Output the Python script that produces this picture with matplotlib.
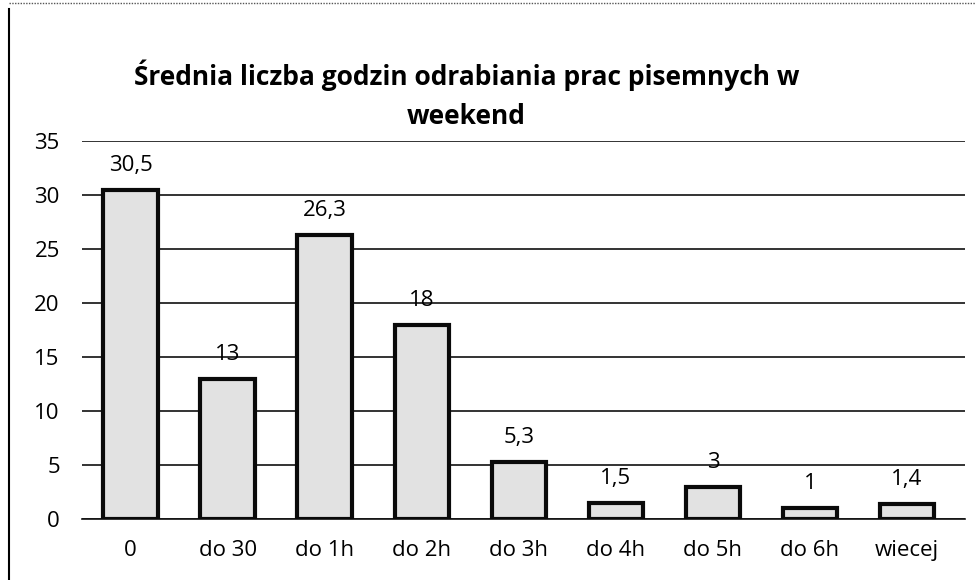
import matplotlib
matplotlib.use("Agg")
import matplotlib.pyplot as plt
from matplotlib.lines import Line2D

categories = ["0", "do 30", "do 1h", "do 2h", "do 3h", "do 4h", "do 5h", "do 6h", "wiecej"]
values = [30.5, 13, 26.3, 18, 5.3, 1.5, 3, 1, 1.4]
labels = ["30,5", "13", "26,3", "18", "5,3", "1,5", "3", "1", "1,4"]
yticks = [0, 5, 10, 15, 20, 25, 30, 35]
title = "Średnia liczba godzin odrabiania prac pisemnych w\nweekend"

plt.rcParams['font.family'] = ['Open Sans', 'DejaVu Sans']

fig = plt.figure(figsize=(9.76, 5.8), dpi=100)
ax = fig.add_axes([0.084, 0.105, 0.905, 0.652])

x = list(range(len(categories)))
ax.bar(x, values, width=0.56, color="#e2e2e2", edgecolor="#0a0a0a", linewidth=3.0, zorder=3)
for xi, v, lab in zip(x, values, labels):
    ax.text(xi, v + 1.3, lab, ha="center", va="bottom", fontsize=16, zorder=4)

ax.set_xlim(-0.5, len(categories) - 0.5 + 0.1)
ax.set_ylim(0, 35)
ax.set_yticks(yticks)
ax.set_xticks(x)
ax.set_xticklabels(categories)
ax.yaxis.grid(True, color="#111111", linewidth=1.2, zorder=0)
ax.tick_params(axis="both", length=0, labelsize=16)
ax.tick_params(axis="x", pad=15)
ax.tick_params(axis="y", pad=16)
for s in ["left", "right", "top"]:
    ax.spines[s].set_visible(False)
ax.spines["bottom"].set_color("#111111")
ax.spines["bottom"].set_linewidth(1.2)

fig.suptitle(title, fontsize=19, fontweight="bold", y=0.898, x=0.478, linespacing=1.6)

fig.add_artist(Line2D([0.009, 0.009], [0.0, 0.985], color="black", linewidth=1.5, transform=fig.transFigure))
fig.add_artist(Line2D([0.009, 1.0], [0.995, 0.995], color="#555555", linewidth=1.0, linestyle=(0, (1, 1)), transform=fig.transFigure))

fig.savefig("out.png", dpi=100)
